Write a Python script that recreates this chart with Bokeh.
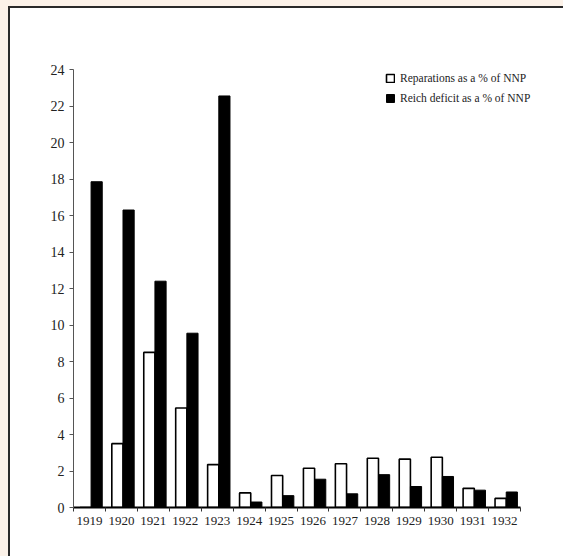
from bokeh.plotting import figure
from bokeh.models import Range1d, FixedTicker, ColumnDataSource, Legend, LegendItem
from bokeh.embed import file_html
from bokeh.resources import INLINE

years = ["1919", "1920", "1921", "1922", "1923", "1924", "1925",
         "1926", "1927", "1928", "1929", "1930", "1931", "1932"]
reparations = [0.0, 3.5, 8.5, 5.45, 2.35, 0.8, 1.75, 2.15, 2.4, 2.7, 2.65, 2.75, 1.05, 0.5]
deficit = [17.85, 16.3, 12.4, 9.55, 22.55, 0.3, 0.65, 1.55, 0.75, 1.8, 1.15, 1.7, 0.95, 0.85]
y_ticks = list(range(0, 25, 2))

SERIF = "Liberation Serif"
n = len(years)
idx = list(range(n))
src = ColumnDataSource(dict(
    xw=[i + 0.375 for i in idx],
    xb=[i + 0.725 for i in idx],
    rep=reparations,
    def_=deficit,
))

p = figure(width=553, height=548, output_backend="svg", toolbar_location=None,
           x_range=Range1d(0, 14.78), y_range=Range1d(0, 24),
           min_border_left=63, min_border_top=61, min_border_bottom=49, min_border_right=18)
p.background_fill_color = "white"
p.border_fill_color = "white"
p.outline_line_color = None
p.grid.visible = False

rw = p.vbar(x="xw", top="rep", bottom=0, width=0.35, source=src,
            fill_color="white", line_color="black", line_width=1.6)
rb = p.vbar(x="xb", top="def_", bottom=0, width=0.35, source=src,
            fill_color="black", line_color="black", line_width=1)

# x axis
xa = p.xaxis[0]
xa.bounds = (0, n)
xa.ticker = FixedTicker(ticks=[i + 0.5 for i in idx], minor_ticks=list(range(n + 1)))
xa.major_label_overrides = {i + 0.5: y for i, y in zip(idx, years)}
xa.major_tick_out = 0
xa.major_tick_in = 0
xa.minor_tick_out = 4
xa.minor_tick_in = 0
xa.minor_tick_line_color = "#333333"
xa.axis_line_color = "black"
xa.axis_line_width = 1.8
xa.major_label_text_font = SERIF
xa.major_label_text_font_size = "13px"
xa.major_label_text_color = "#222222"
xa.major_label_standoff = 5

# y axis
ya = p.yaxis[0]
ya.bounds = (0, 24)
ya.ticker = FixedTicker(ticks=y_ticks, minor_ticks=[])
ya.major_tick_out = 4
ya.major_tick_in = 0
ya.major_tick_line_color = "#555555"
ya.axis_line_color = "#555555"
ya.axis_line_width = 1
ya.major_label_text_font = SERIF
ya.major_label_text_font_size = "14px"
ya.major_label_text_color = "#222222"
ya.major_label_standoff = 5

legend = Legend(items=[LegendItem(label="Reparations as a % of NNP", renderers=[rw]),
                       LegendItem(label="Reich deficit as a % of NNP", renderers=[rb])],
                location=(312, 399))
legend.background_fill_alpha = 0
legend.border_line_color = None
legend.padding = 0
legend.margin = 0
legend.spacing = 0
legend.glyph_width = 10
legend.glyph_height = 10
legend.label_height = 20
legend.label_standoff = 5
legend.label_text_font = SERIF
legend.label_text_font_size = "11.5px"
legend.label_text_color = "#222222"
p.add_layout(legend, "center")

html = file_html(p, INLINE)
css = ("<style>"
       "html{background:#fcf2e9 !important; overflow:hidden !important;}"
       "body{margin:6px 0 0 8px !important; padding:0 !important;"
       " border-top:2px solid #2a2a2a; border-left:2px solid #2a2a2a;"
       " background:#ffffff !important; height:600px !important; box-sizing:content-box !important;}"
       "</style></head>")
html = html.replace("</head>", css, 1)
open("out.html", "w").write(html)
